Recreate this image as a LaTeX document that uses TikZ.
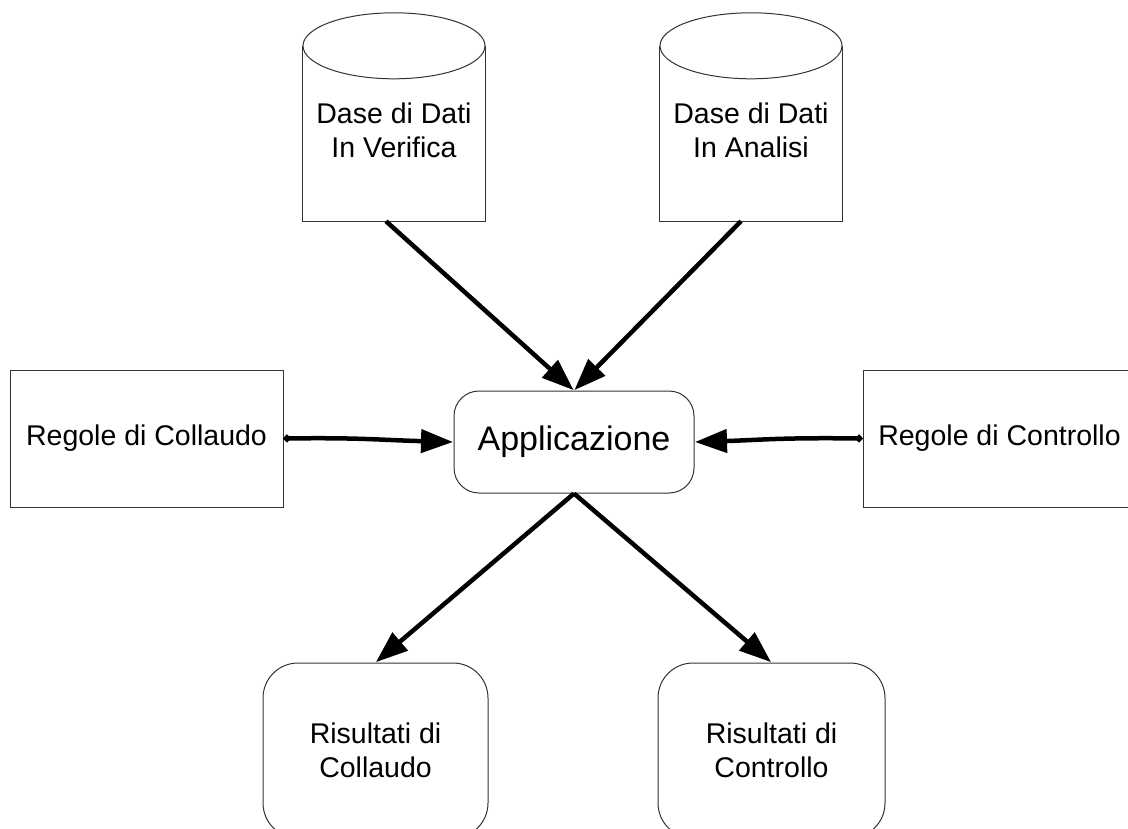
\documentclass[tikz,border=0pt]{standalone}
\usepackage{fontspec}
\setmainfont{Liberation Sans}
\usetikzlibrary{arrows.meta}
\begin{document}
\begin{tikzpicture}[x=1pt,y=-1pt,
  boxline/.style={draw=black!80,line width=1pt},
  txt/.style={font=\fontsize{28.5}{34}\selectfont,align=center,inner sep=0pt},
  flow/.style={line width=4.5pt,-{Triangle[length=32pt,width=23pt]},shorten >=0.5pt},
  startdot/.style={{Circle[length=7pt,width=7pt]}-{Triangle[length=32pt,width=23pt]}}]
\clip (0,0) rectangle (1128,828);
\fill[white] (0,0) rectangle (1128,828);
% cylinders
\node[minimum width=182pt,minimum height=175pt,inner sep=0pt] (db1) at (394,133.5) {};
\draw[boxline] (db1.north west) -- (db1.south west) -- (db1.south east) -- (db1.north east);
\draw[boxline,fill=white] (db1.north) ellipse [x radius=91,y radius=33];
\node[txt] (db1t) at (394,130) {Dase di Dati\\In Verifica};
\node[minimum width=182pt,minimum height=175pt,inner sep=0pt] (db2) at (751,133.5) {};
\draw[boxline] (db2.north west) -- (db2.south west) -- (db2.south east) -- (db2.north east);
\draw[boxline,fill=white] (db2.north) ellipse [x radius=91,y radius=33];
\node[txt] (db2t) at (751,130) {Dase di Dati\\In Analisi};
% side boxes
\node[boxline,txt,minimum width=273pt,minimum height=137pt] (rc) at (146.5,438.5) {Regole di Collaudo};
\node[boxline,txt,minimum width=273pt,minimum height=137pt] (rk) at (999.5,438.5) {Regole di Controllo};
% application
\node[boxline,rounded corners=25pt,minimum width=240pt,minimum height=102pt,inner sep=0pt,
  font=\fontsize{34}{40}\selectfont] (app) at (574,442) {Applicazione};
% result boxes
\node[boxline,txt,rounded corners=35pt,minimum width=225pt,minimum height=175pt] (rb1) at (375.5,750.5) {Risultati di\\Collaudo};
\node[boxline,txt,rounded corners=35pt,minimum width=227pt,minimum height=175pt] (rb2) at (771.5,750.5) {Risultati di\\Controllo};
% connectors
\draw[flow] ([xshift=-8pt]db1.south) -- (app.north);
\draw[flow] ([xshift=-10pt]db2.south) -- (app.north);
\draw[flow,startdot] (rc.east) .. controls (360,437.5) and (380,440) .. (app.west);
\draw[flow,startdot] (rk.west) .. controls (780,437.5) and (760,440) .. (app.east);
\draw[flow] (app.south) -- (rb1.north);
\draw[flow] (app.south) -- (rb2.north);
\end{tikzpicture}
\end{document}
